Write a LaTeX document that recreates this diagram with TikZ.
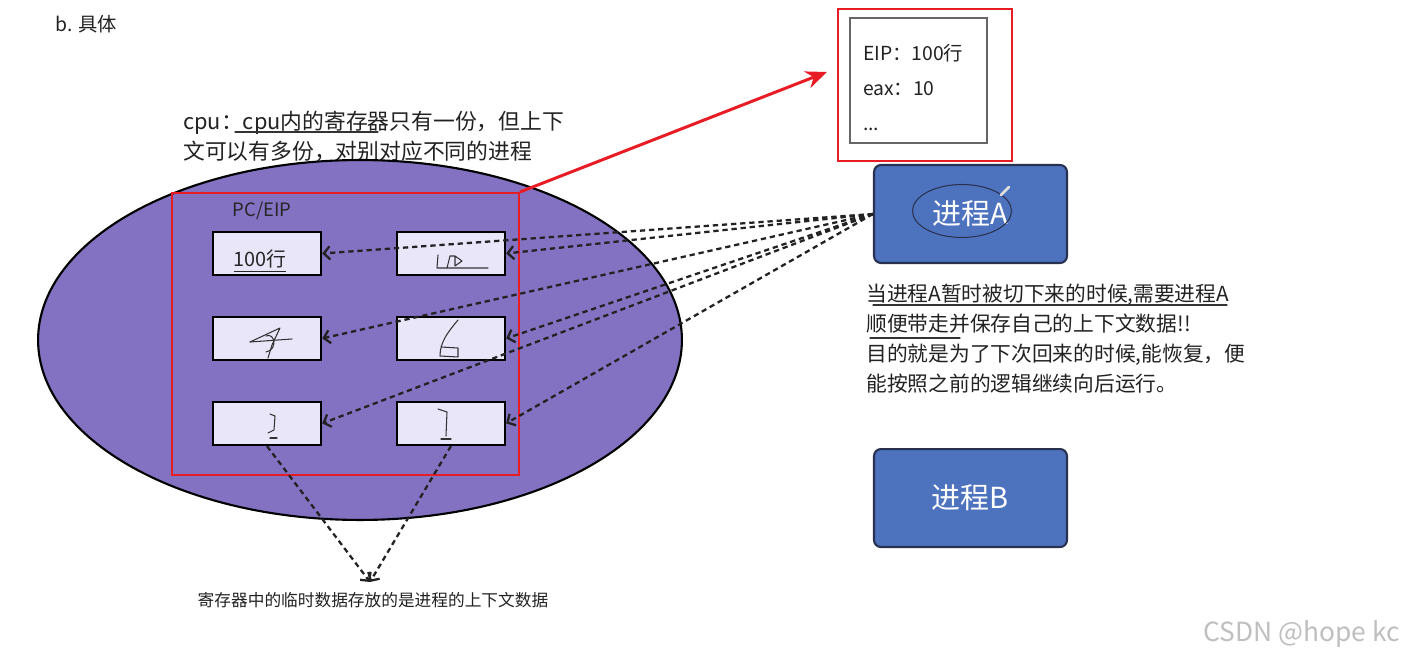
\documentclass[tikz,border=0pt]{standalone}
\usepackage{fontspec}
\setmainfont{Noto Sans CJK SC}
\usetikzlibrary{arrows.meta,positioning,shapes.geometric}
\definecolor{cpuPurple}{RGB}{131,113,193}
\definecolor{regFill}{RGB}{232,230,248}
\definecolor{procBlue}{RGB}{78,115,190}
\definecolor{procEdge}{RGB}{40,50,80}
\definecolor{markRed}{RGB}{232,28,36}
\definecolor{inkGray}{RGB}{34,34,34}

\begin{document}
\begin{tikzpicture}[
  x=0.02cm, y=-0.02cm,
  node distance=0.79cm and 1.47cm,
  txt/.style={inner sep=0pt, text=inkGray},
  reg/.style={rectangle, draw=black, line width=1.4pt, fill=regFill,
              minimum width=2.16cm, minimum height=0.86cm, inner sep=0pt},
  proc/.style={rectangle, rounded corners=0.14cm, draw=procEdge, line width=1.2pt,
               fill=procBlue, minimum width=3.86cm, minimum height=1.96cm,
               text=white, font=\fontsize{16.5}{20}\selectfont},
  redframe/.style={rectangle, draw=markRed, line width=1.2pt, inner sep=0pt},
  dotarr/.style={-{Straight Barb[length=3.5pt,width=7.5pt]}, line width=1.3pt,
                 dash pattern=on 3pt off 2.2pt, inkGray},
  redarr/.style={-{Stealth[length=12pt,width=10pt]}, line width=1.7pt, markRed},
  scrib/.style={line width=0.6pt, black!80, line cap=round, line join=round}
]
  \path[use as bounding box, fill=white] (0,0) rectangle (1404,661);

  \node[txt, anchor=west, font=\fontsize{11}{13}\selectfont] (title) at (55,24) {b. 具体};

  % cpu and its registers
  \node[txt, anchor=north west, align=left, font=\fontsize{12.4}{17}\selectfont] (cpunote) at (183,111)
    {cpu：cpu内的寄存器只有一份，但上下\\文可以有多份，对别对应不同的进程};
  \draw[scrib] (235,132) -- (378,132);

  \node[ellipse, draw=black, line width=1.2pt, fill=cpuPurple,
        minimum width=12.88cm, minimum height=7.2cm] (cpu) at (360,340) {};
  \node[redframe, minimum width=6.94cm, minimum height=5.64cm] (cpuframe) at (345.5,334) {};
  \node[txt, font=\fontsize{10.5}{12}\selectfont, text=black!85] (pclabel) at (262,211) {PC/EIP};

  \node[reg] (l1) at (267,253.5) {};
  \node[reg, right=of l1] (r1) {};
  \node[reg, below=of l1] (l2) {};
  \node[reg, right=of l2] (r2) {};
  \node[reg, below=of l2] (l3) {};
  \node[reg, right=of l3] (r3) {};

  \node[txt, font=\fontsize{11.3}{13}\selectfont, text=black!85] (eipval) at (260,261) {\underline{100行}};

  % handwriting in the registers
  \draw[scrib] (438,255) -- (437,268) -- (488,268);
  \draw[scrib] (447,268) -- (450,256) -- (455,256) -- (462,261) -- (455,266) -- (455,256);
  \draw[scrib] (250,342) -- (280,328) -- (272,345) -- (268,358);
  \draw[scrib] (250,342) -- (292,339);
  \draw[scrib] (266,336) .. controls (275,332) and (278,350) .. (266,352);
  \draw[scrib] (458,320) .. controls (448,332) and (440,342) .. (440,356) -- (458,357) -- (458,348) -- (441,347);
  \draw[scrib] (270,414) -- (275,416) -- (274,430) -- (268,433);
  \draw[scrib] (270,438) -- (277,438);
  \draw[scrib] (438,409) -- (447,412) -- (446,436);
  \draw[scrib] (441,439) -- (451,439);

  % saved context
  \node[redframe, minimum width=3.48cm, minimum height=3.04cm] (ctxframe) at (925,85) {};
  \node[rectangle, draw=black!60, line width=0.8pt, fill=white, minimum width=2.74cm,
        minimum height=2.5cm, text width=2.22cm, inner xsep=0.26cm, align=left,
        font=\fontsize{11}{19.8}\selectfont, text=inkGray] (ctxbox) at (918.5,80.5)
    {\rule{0pt}{17pt}EIP：100行\\eax：10\\...};

  % processes
  \node[proc] (procA) at (970.5,214) {进程A};
  \node[proc, below=3.68cm of procA] (procB) {进程B};
  \draw[line width=0.6pt, procEdge] (962,211) ellipse [x radius=0.99cm, y radius=0.53cm];
  \draw[line width=1.5pt, white!75!gray, line cap=round] (1001,195) -- (1009,187);

  \node[txt, anchor=north west, align=left, font=\fontsize{11.8}{17}\selectfont] (reason) at (866,284)
    {当进程A暂时被切下来的时候,需要进程A\\顺便带走并保存自己的上下文数据!!\\目的就是为了下次回来的时候,能恢复，便\\能按照之前的逻辑继续向后运行。};
  \draw[scrib] (873,305) -- (1227,305);
  \draw[scrib] (870,338) -- (960,338);

  \foreach \r in {l1,r1,l2,r2,l3,r3}
    \draw[dotarr] (procA.west) -- (\r.east);

  \coordinate (merge) at (370,582);
  \draw[dotarr] (l3.south) -- (merge);
  \draw[dotarr] (r3.south) -- (merge);
  \node[txt, font=\fontsize{9.5}{11}\selectfont] (regnote) at (373,600)
    {寄存器中的临时数据存放的是进程的上下文数据};

  \draw[redarr] (cpuframe.north east) -- ([xshift=-0.2cm,yshift=0.26cm]ctxframe.west);

  \node[txt, anchor=east, text=black!25, font=\fontsize{15}{17}\selectfont] (mark) at (1400,634) {CSDN @hope kc};
\end{tikzpicture}
\end{document}
